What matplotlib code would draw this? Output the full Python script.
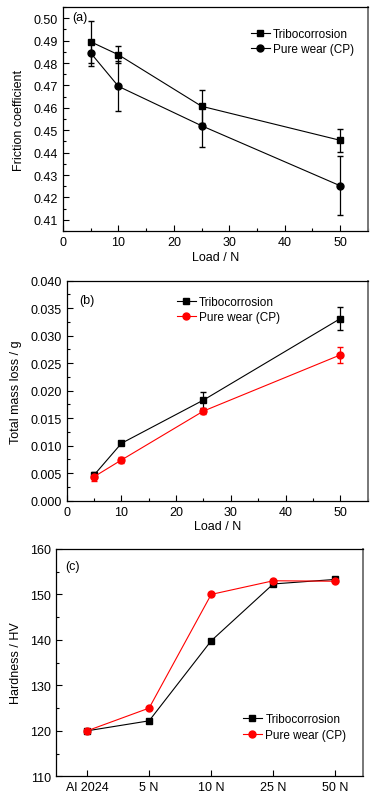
import matplotlib
matplotlib.use("Agg")
import matplotlib.pyplot as plt
from matplotlib.ticker import MultipleLocator

plt.rcParams['font.family'] = ['Liberation Sans', 'DejaVu Sans']
plt.rcParams['font.size'] = 9

# (a) friction coefficient
load = [5, 10, 25, 50]
mu_tribo = [0.4895, 0.4837, 0.4607, 0.4455]
mu_tribo_err = [0.0093, 0.0037, 0.0073, 0.0050]
mu_wear = [0.4845, 0.4696, 0.4520, 0.4252]
mu_wear_err = [0.0057, 0.0112, 0.0097, 0.0131]

# (b) total mass loss
mass_tribo = [0.00467, 0.01043, 0.0183, 0.0331]
mass_tribo_err = [0.0006, 0.0003, 0.0015, 0.0021]
mass_wear = [0.00436, 0.0074, 0.0163, 0.0265]
mass_wear_err = [0.0007, 0.0006, 0.0005, 0.0015]

# (c) hardness
samples = ["Al 2024", "5 N", "10 N", "25 N", "50 N"]
hv_tribo = [120.0, 122.2, 139.8, 152.3, 153.3]
hv_wear = [120.0, 125.0, 150.0, 153.0, 152.9]

fig = plt.figure(figsize=(3.77, 8.04), dpi=100)
ax1 = fig.add_axes([0.167, 0.7114, 0.809, 0.2786])
ax2 = fig.add_axes([0.177, 0.376, 0.798, 0.2736])
ax3 = fig.add_axes([0.1485, 0.0332, 0.8152, 0.2828])

leg_kw = dict(frameon=False, handlelength=1.6, handletextpad=0.3,
              labelspacing=0.3, fontsize=8.5)


def style(ax):
    ax.tick_params(which='both', direction='in', top=False, right=False)
    ax.tick_params(which='major', length=4, width=0.8)
    ax.tick_params(which='minor', length=2, width=0.8)
    for s in ax.spines.values():
        s.set_linewidth(0.9)
    ax.spines['right'].set_color('#777777')
    ax.spines['right'].set_linewidth(1.4)


# panel (a)
ax1.errorbar(load, mu_tribo, yerr=mu_tribo_err, color='black', marker='s', ms=4.5,
             lw=0.8, capsize=2.2, elinewidth=0.9, label='Tribocorrosion')
ax1.errorbar(load, mu_wear, yerr=mu_wear_err, color='black', marker='o', ms=5,
             lw=0.8, capsize=2.2, elinewidth=0.9, label='Pure wear (CP)')
ax1.set_xlim(0, 55)
ax1.set_ylim(0.405, 0.505)
ax1.xaxis.set_major_locator(MultipleLocator(10))
ax1.xaxis.set_minor_locator(MultipleLocator(5))
ax1.yaxis.set_major_locator(MultipleLocator(0.01))
ax1.yaxis.set_minor_locator(MultipleLocator(0.005))
ax1.yaxis.set_major_formatter(lambda v, p: f"{v:.2f}")
ax1.set_xlabel('Load / N', labelpad=2)
ax1.set_ylabel('Friction coefficient', labelpad=6)
ax1.text(0.03, 0.94, '(a)', transform=ax1.transAxes)
h, l = ax1.get_legend_handles_labels()
h = [x[0] for x in h]
ax1.legend(h, l, loc='upper right', bbox_to_anchor=(0.99, 0.955), **leg_kw)
style(ax1)

# panel (b)
ax2.errorbar(load, mass_tribo, yerr=mass_tribo_err, color='black', marker='s', ms=4.5,
             lw=0.8, capsize=2.2, elinewidth=0.9, label='Tribocorrosion')
ax2.errorbar(load, mass_wear, yerr=mass_wear_err, color='red', marker='o', ms=5,
             lw=0.8, capsize=2.2, elinewidth=0.9, label='Pure wear (CP)')
ax2.set_xlim(0, 55)
ax2.set_ylim(0, 0.040)
ax2.xaxis.set_major_locator(MultipleLocator(10))
ax2.xaxis.set_minor_locator(MultipleLocator(5))
ax2.yaxis.set_major_locator(MultipleLocator(0.005))
ax2.yaxis.set_minor_locator(MultipleLocator(0.0025))
ax2.yaxis.set_major_formatter(lambda v, p: f"{v:.3f}")
ax2.set_xlabel('Load / N', labelpad=2)
ax2.set_ylabel('Total mass loss / g', labelpad=6)
ax2.text(0.04, 0.9, '(b)', transform=ax2.transAxes)
h, l = ax2.get_legend_handles_labels()
h = [x[0] for x in h]
ax2.legend(h, l, loc='upper left', bbox_to_anchor=(0.33, 0.98), **leg_kw)
style(ax2)

# panel (c)
xc = list(range(len(samples)))
ax3.plot(xc, hv_tribo, color='black', marker='s', ms=4.5, lw=0.8, label='Tribocorrosion')
ax3.plot(xc, hv_wear, color='red', marker='o', ms=5, lw=0.8, label='Pure wear (CP)')
ax3.set_xlim(-0.5, 4.45)
ax3.set_ylim(110, 160)
ax3.set_xticks(xc)
ax3.set_xticklabels(samples)
ax3.yaxis.set_major_locator(MultipleLocator(10))
ax3.yaxis.set_minor_locator(MultipleLocator(5))
ax3.set_ylabel('Hardness / HV', labelpad=6)
ax3.text(0.03, 0.91, '(c)', transform=ax3.transAxes)
ax3.legend(loc='lower right', bbox_to_anchor=(0.98, 0.11), **leg_kw)
style(ax3)

fig.savefig('out.png', dpi=100)
